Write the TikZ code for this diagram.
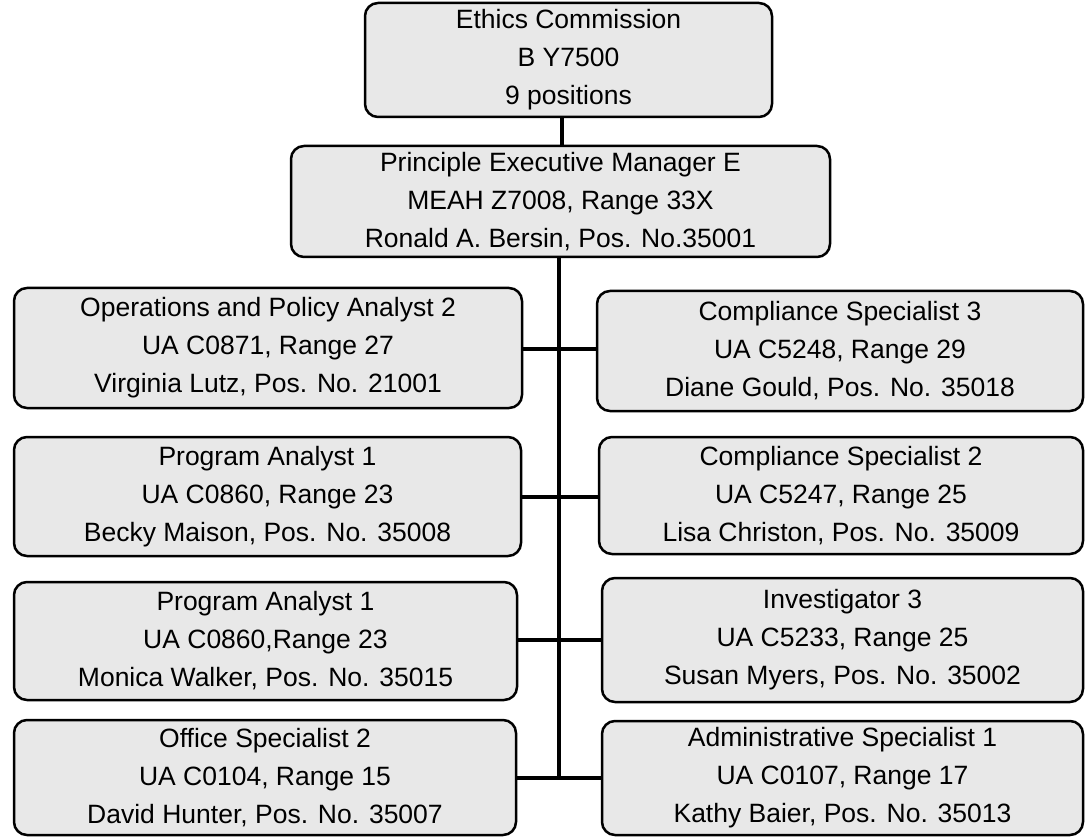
\documentclass[tikz,border=0pt]{standalone}
\usepackage{fontspec}
\setmainfont{Liberation Sans}
\begin{document}
\begin{tikzpicture}[x=1pt,y=-1pt,
  box/.style={draw=black, line width=2.5pt, fill=black!9, rounded corners=13pt,
    inner sep=0pt, align=center, font=\fontsize{26.5}{38}\selectfont},
  conn/.style={draw=black, line width=4pt}]
\useasboundingbox (0,0) rectangle (1085,837);
\node[box, minimum width=407pt, minimum height=114pt] (top) at (568.5,60) {Ethics Commission\\B Y7500\\9 positions};
\node[box, minimum width=539pt, minimum height=111pt] (mgr) at (560.5,201.5) {Principle Executive Manager E\\MEAH Z7008, Range 33X\\Ronald A. Bersin, Pos. No.35001};
\node[box, minimum width=508pt, minimum height=120pt] (L1) at (268,348) {Operations and Policy Analyst 2\\UA C0871, Range 27\\Virginia Lutz, Pos. No. 21001};
\node[box, minimum width=486pt, minimum height=120pt] (R1) at (840,351) {Compliance Specialist 3\\UA C5248, Range 29\\Diane Gould, Pos. No. 35018};
\node[box, minimum width=507pt, minimum height=119pt] (L2) at (267.5,496.5) {Program Analyst 1\\UA C0860, Range 23\\Becky Maison, Pos. No. 35008};
\node[box, minimum width=484pt, minimum height=117pt] (R2) at (841,495.5) {Compliance Specialist 2\\UA C5247, Range 25\\Lisa Christon, Pos. No. 35009};
\node[box, minimum width=503pt, minimum height=118pt] (L3) at (265.5,641) {Program Analyst 1\\UA C0860,Range 23\\Monica Walker, Pos. No. 35015};
\node[box, minimum width=481pt, minimum height=124pt] (R3) at (842.5,640) {Investigator 3\\UA C5233, Range 25\\Susan Myers, Pos. No. 35002};
\node[box, minimum width=502pt, minimum height=115pt] (L4) at (265,777.5) {Office Specialist 2\\UA C0104, Range 15\\David Hunter, Pos. No. 35007};
\node[box, minimum width=481pt, minimum height=114pt] (R4) at (842.5,778) {Administrative Specialist 1\\UA C0107, Range 17\\Kathy Baier, Pos. No. 35013};
\coordinate (c0) at (562,0);
\coordinate (j1) at (559,349);
\coordinate (j2) at (559,497);
\coordinate (j3) at (559,640);
\coordinate (j4) at (559,778);
\draw[conn] (c0 |- top.south) -- (c0 |- mgr.north);
\draw[conn] (j1 |- mgr.south) -- (j4);
\foreach \j/\l/\r in {j1/L1/R1, j2/L2/R2, j3/L3/R3, j4/L4/R4}{
  \draw[conn] (\j -| \l.east) -- (\j -| \r.west);
}
\end{tikzpicture}
\end{document}
